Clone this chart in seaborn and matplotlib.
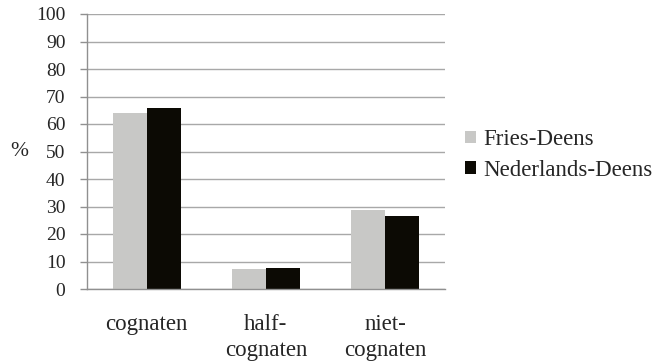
import matplotlib
matplotlib.use("Agg")
import matplotlib.pyplot as plt
import seaborn as sns
import pandas as pd
from matplotlib.patches import Patch

categories = ["cognaten", "half-\ncognaten", "niet-\ncognaten"]
series_names = ["Fries-Deens", "Nederlands-Deens"]
fries_deens = [64.0, 7.3, 28.7]
nederlands_deens = [66.0, 7.6, 26.5]
y_ticks = list(range(0, 101, 10))
colors = ["#c8c8c6", "#0c0a04"]

df = pd.DataFrame({
    "categorie": categories * 2,
    "reeks": [series_names[0]] * 3 + [series_names[1]] * 3,
    "waarde": fries_deens + nederlands_deens,
})

sns.set_style("white")
plt.rcParams["font.family"] = ["Liberation Serif", "DejaVu Serif"]

W, H = 655, 362
fig = plt.figure(figsize=(W / 100, H / 100), dpi=100)
ax = fig.add_axes([87 / W, 1 - 289 / H, (445 - 87) / W, (289 - 14) / H])

sns.barplot(data=df, x="categorie", y="waarde", hue="reeks", order=categories,
            hue_order=series_names, palette=colors, width=0.57, gap=0,
            saturation=1, linewidth=0, legend=False, ax=ax)

ax.set_xlim(-0.5, 2.5)
ax.set_ylim(0, 100)
ax.set_yticks(y_ticks)
ax.set_yticklabels([str(t) for t in y_ticks], fontsize=14)
ax.yaxis.grid(True, color="#a8a8a8", linewidth=1.0)
ax.set_axisbelow(True)

ax.set_xticks(range(len(categories)))
ax.set_xticklabels(categories, fontsize=16.5, linespacing=1.3, va="top")
ax.set_xticks([-0.5, 0.5, 1.5, 2.5], minor=True)
ax.tick_params(axis="x", which="major", length=0, pad=18)
ax.tick_params(axis="x", which="minor", length=4.5, color="#909090", width=1, direction="out")
ax.tick_params(axis="y", length=5, color="#909090", width=1, direction="out", pad=10.5, left=True)

for side in ["top", "right"]:
    ax.spines[side].set_visible(False)
for side in ["left", "bottom"]:
    ax.spines[side].set_color("#909090")
    ax.spines[side].set_linewidth(1)

ax.set_xlabel("")
ax.set_ylabel("%", fontsize=15.5, rotation=0, ha="center", va="center")
ax.yaxis.set_label_coords((19 - 87) / 358, (289 - 152) / 275)

handles = [Patch(facecolor=c, edgecolor="none") for c in colors]
fig.legend(handles, series_names, loc="center left", bbox_to_anchor=(465 / W, 1 - 155 / H),
           frameon=False, fontsize=16.5, handlelength=0.48, handleheight=0.48,
           handletextpad=0.32, labelspacing=0.42, borderaxespad=0, borderpad=0)

fig.savefig("out.png", dpi=100)
